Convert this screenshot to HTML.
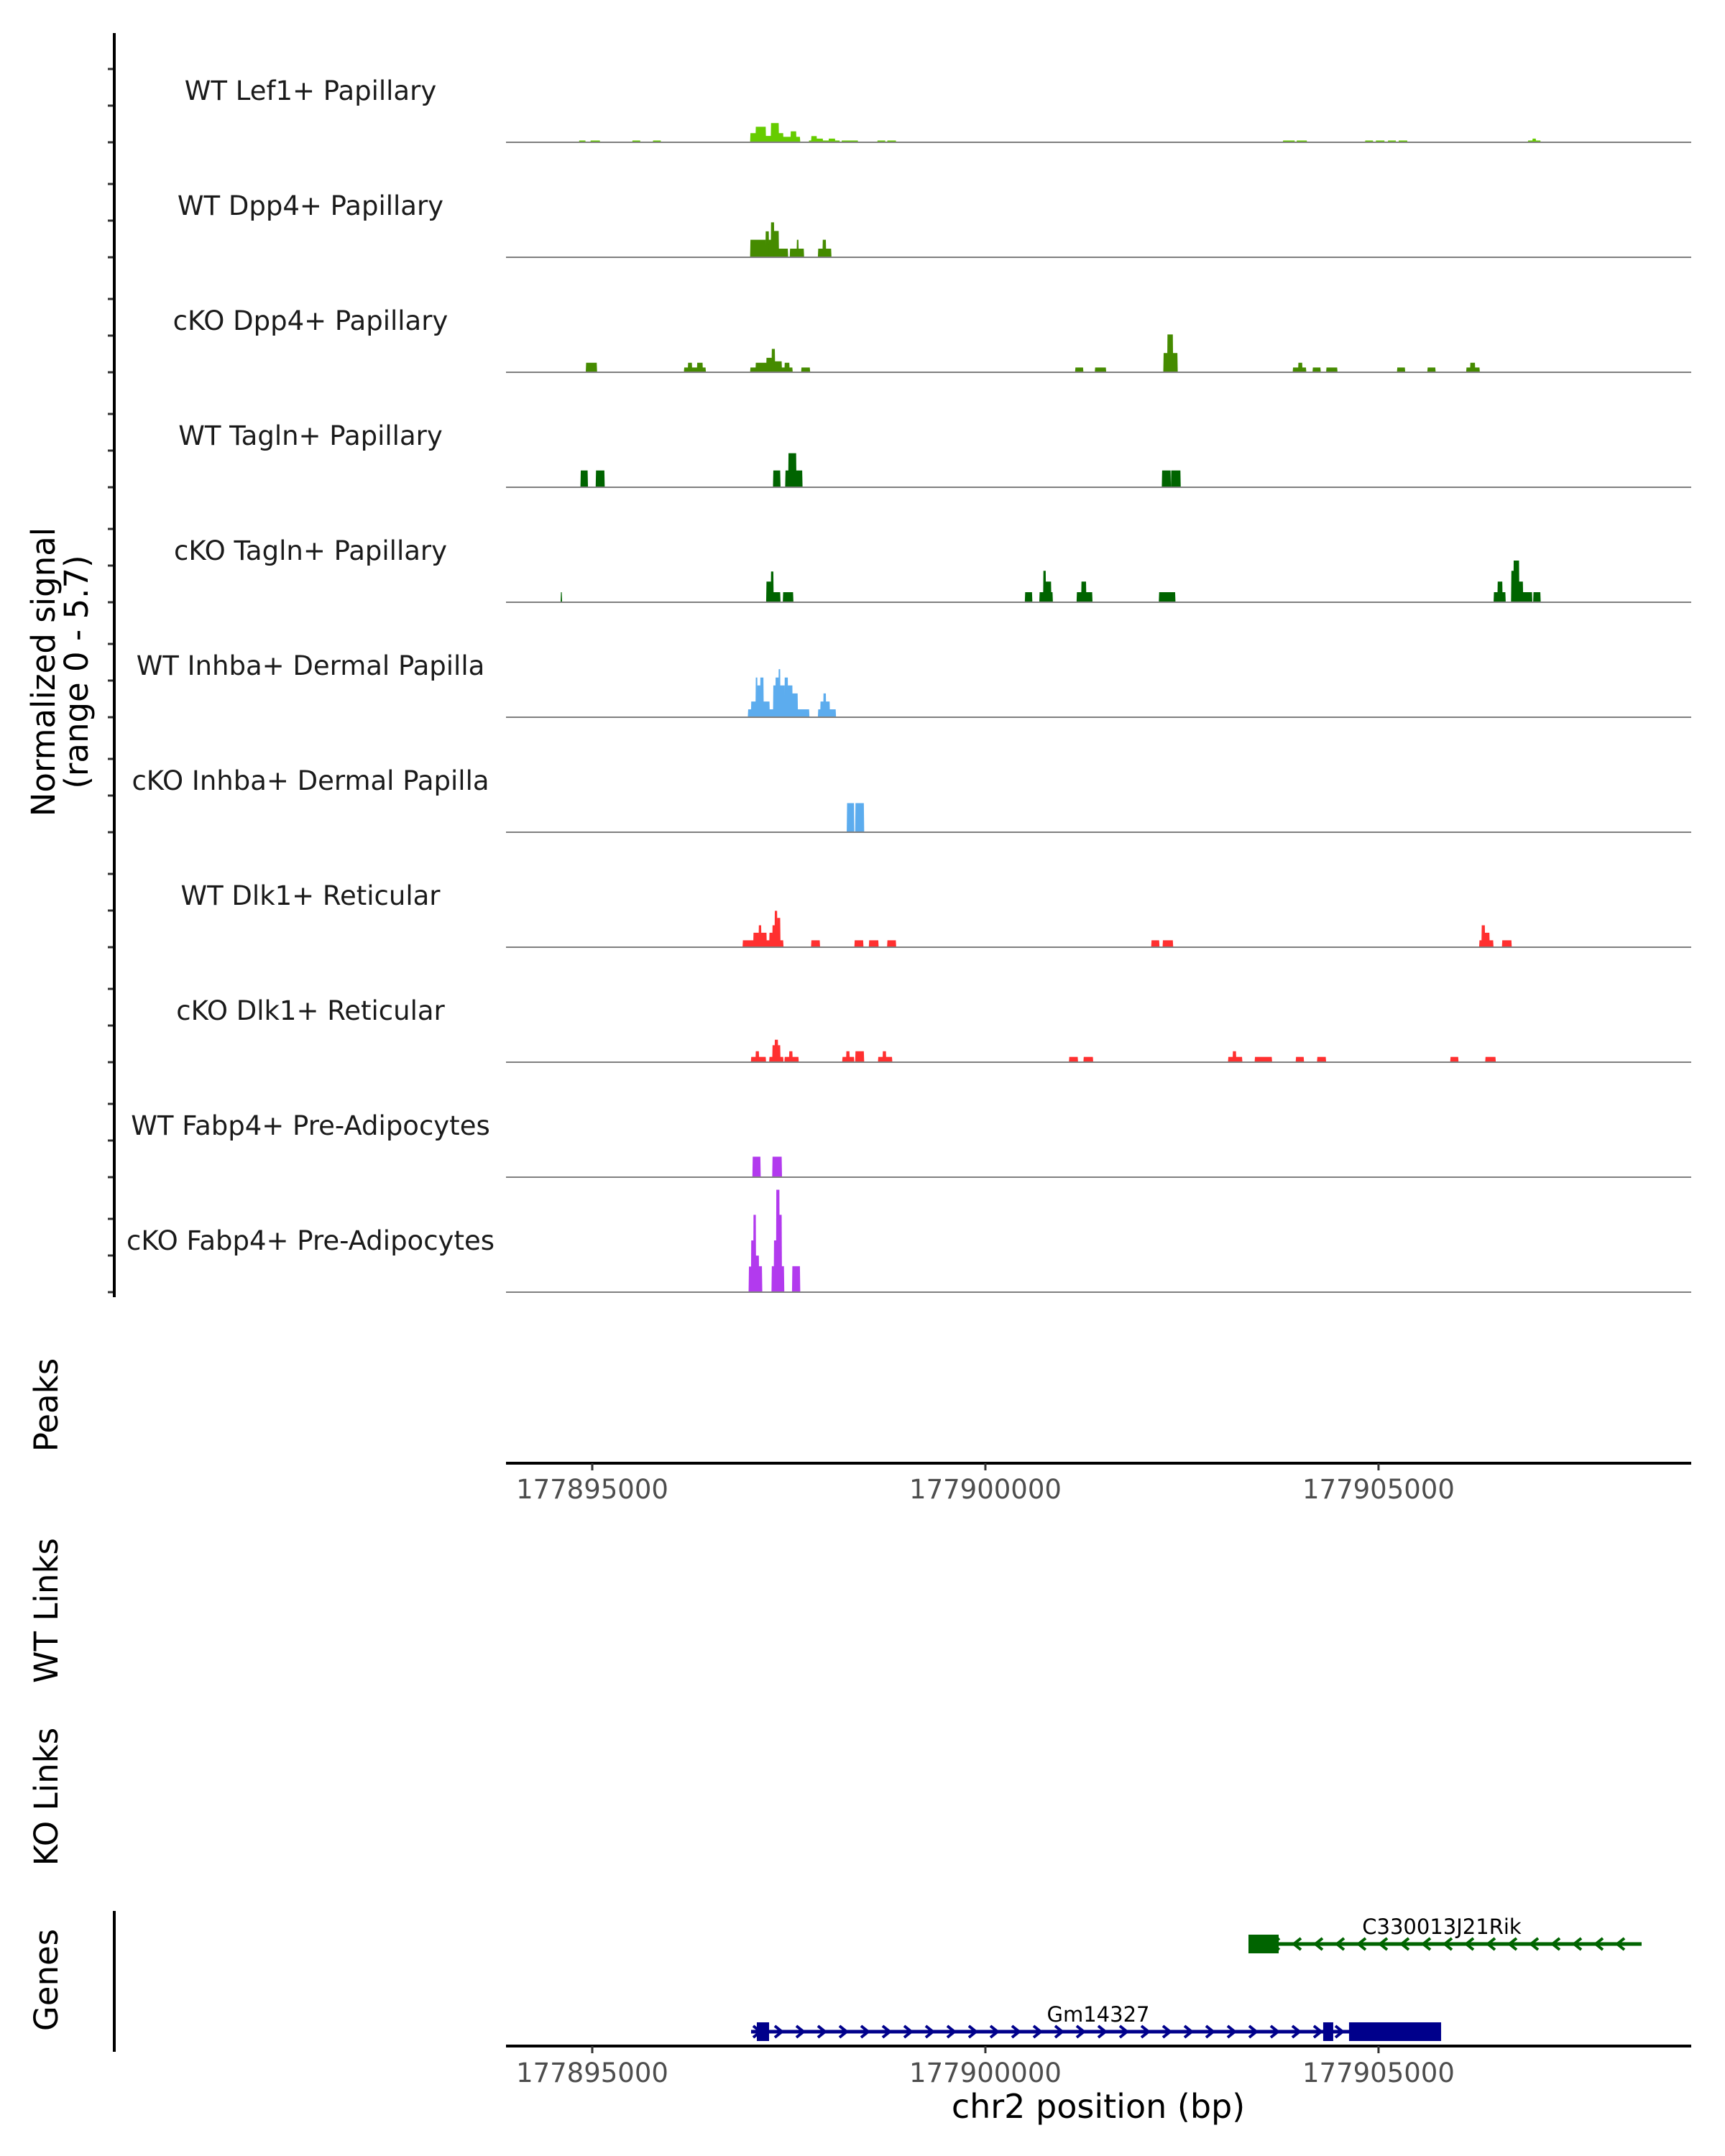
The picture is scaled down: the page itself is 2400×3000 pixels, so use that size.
<!DOCTYPE html>
<html><head><meta charset="utf-8"><style>
html,body{margin:0;padding:0;background:#fff;}
svg{display:block;font-family:"DejaVu Sans","Liberation Sans",sans-serif;}
</style></head><body>
<svg id="fig" width="2400" height="3000" viewBox="0 0 2400 3000" xmlns="http://www.w3.org/2000/svg">
<g id="tracks"></g>
<g id="axes"></g>
<g id="genes"></g>
</svg>
<script>
// offsets in bp relative to 177890000; [start, end, value]
const trackNames = ["WT Lef1+ Papillary","WT Dpp4+ Papillary","cKO Dpp4+ Papillary","WT Tagln+ Papillary","cKO Tagln+ Papillary","WT Inhba+ Dermal Papilla","cKO Inhba+ Dermal Papilla","WT Dlk1+ Reticular","cKO Dlk1+ Reticular","WT Fabp4+ Pre-Adipocytes","cKO Fabp4+ Pre-Adipocytes"];
const trackColors = ["#66cc00","#458b00","#458b00","#006400","#006400","#5cacee","#5cacee","#ff3030","#ff3030","#b23aee","#b23aee"];
const sigLef1WT = [[4835,4912,0.1],[4980,5096,0.1],[5512,5609,0.1],[5774,5870,0.1],[7012,7080,0.5],[7080,7206,0.85],[7206,7274,0.35],[7274,7371,1.05],[7371,7428,0.5],[7428,7525,0.3],[7525,7593,0.6],[7593,7641,0.3],[7758,7787,0.1],[7787,7854,0.34],[7854,7932,0.2],[7932,8009,0.1],[8009,8087,0.2],[8087,8145,0.1],[8174,8377,0.1],[8629,8725,0.1],[8754,8861,0.1],[13787,13932,0.1],[13961,14087,0.1],[14832,14929,0.1],[14968,15074,0.1],[15122,15219,0.1],[15258,15364,0.1],[16903,16960,0.1],[16960,17000,0.2],[17000,17058,0.1]];
const sigDpp4WT = [[7012,7206,0.96],[7206,7245,1.42],[7245,7274,0.96],[7274,7312,1.91],[7312,7371,1.44],[7371,7487,0.47],[7516,7603,0.47],[7603,7622,0.96],[7622,7690,0.47],[7874,7932,0.47],[7932,7971,0.96],[7971,8038,0.47]];
const sigDpp4KO = [[4922,5057,0.52],[6170,6219,0.26],[6219,6267,0.52],[6267,6335,0.26],[6335,6403,0.52],[6403,6441,0.26],[7012,7080,0.26],[7080,7216,0.52],[7216,7284,0.79],[7284,7322,1.28],[7322,7409,0.6],[7409,7448,0.26],[7448,7506,0.52],[7506,7545,0.26],[7661,7767,0.26],[11145,11242,0.26],[11396,11532,0.26],[12267,12316,1.05],[12316,12384,2.07],[12384,12442,1.05],[13913,13981,0.26],[13981,14029,0.52],[14029,14077,0.26],[14165,14261,0.26],[14338,14474,0.26],[15239,15335,0.26],[15625,15722,0.26],[16119,16168,0.26],[16168,16226,0.52],[16226,16284,0.26]];
const sigTaglnWT = [[4854,4941,0.92],[5048,5154,0.92],[7303,7390,0.92],[7458,7496,0.92],[7496,7593,1.86],[7593,7670,0.92],[12248,12355,0.92],[12364,12480,0.92]];
const sigTaglnKO = [[4602,4612,0.55],[7216,7274,1.13],[7274,7303,1.68],[7303,7390,0.55],[7428,7554,0.55],[10506,10593,0.55],[10690,10738,0.55],[10738,10767,1.72],[10767,10835,1.13],[10835,10854,0.55],[11164,11222,0.55],[11222,11280,1.13],[11280,11358,0.55],[12210,12413,0.55],[16468,16516,0.55],[16516,16574,1.13],[16574,16613,0.55],[16690,16719,1.72],[16719,16787,2.28],[16787,16836,1.13],[16836,16952,0.55],[16971,17058,0.55]];
const sigInhbaWT = [[6983,7022,0.43],[7022,7080,0.86],[7080,7099,2.17],[7099,7138,1.74],[7138,7177,2.17],[7177,7254,0.86],[7254,7303,0.43],[7303,7332,1.74],[7332,7371,2.17],[7371,7390,2.63],[7390,7448,1.74],[7448,7487,2.17],[7487,7545,1.74],[7545,7612,1.3],[7612,7758,0.43],[7874,7903,0.43],[7903,7941,0.86],[7941,7971,1.3],[7971,8019,0.86],[8019,8096,0.43]];
const sigInhbaKO = [[8241,8329,1.59],[8348,8454,1.59]];
const sigDlk1WT = [[6916,7051,0.38],[7051,7119,0.79],[7119,7148,1.2],[7148,7216,0.79],[7216,7254,0.38],[7254,7293,0.79],[7293,7322,1.2],[7322,7351,1.99],[7351,7390,1.6],[7390,7428,0.38],[7787,7893,0.38],[8338,8445,0.38],[8522,8638,0.38],[8754,8861,0.38],[12113,12210,0.38],[12258,12384,0.38],[16284,16313,0.38],[16313,16352,1.2],[16352,16410,0.79],[16410,16458,0.38],[16574,16690,0.38]];
const sigDlk1KO = [[7022,7080,0.29],[7080,7119,0.6],[7119,7206,0.29],[7254,7293,0.29],[7293,7322,0.93],[7322,7361,1.23],[7361,7390,0.93],[7390,7428,0.29],[7448,7506,0.29],[7506,7545,0.6],[7545,7622,0.29],[8183,8232,0.29],[8232,8271,0.6],[8271,8329,0.29],[8348,8454,0.6],[8638,8696,0.29],[8696,8735,0.6],[8735,8812,0.29],[11067,11174,0.29],[11251,11367,0.29],[13090,13148,0.29],[13148,13187,0.6],[13187,13264,0.29],[13429,13642,0.29],[13951,14048,0.29],[14222,14329,0.29],[15916,16013,0.29],[16361,16487,0.29]];
const sigFabp4WT = [[7041,7138,1.12],[7293,7409,1.12]];
const sigFabp4KO = [[6993,7022,1.4],[7022,7051,2.83],[7051,7080,4.23],[7080,7119,2.0],[7119,7158,1.42],[7284,7312,1.42],[7312,7341,2.83],[7341,7380,5.6],[7380,7409,4.23],[7409,7438,1.42],[7545,7641,1.42]];
const allSignals = [sigLef1WT,sigDpp4WT,sigDpp4KO,sigTaglnWT,sigTaglnKO,sigInhbaWT,sigInhbaKO,sigDlk1WT,sigDlk1KO,sigFabp4WT,sigFabp4KO];
const xTicks = [177895000,177900000,177905000];
const leftTitles = ["Peaks","WT Links","KO Links","Genes"];
const geneNames = ["C330013J21Rik","Gm14327"];
const geneStrand = [-1,1];
const geneSpan = [[177903346,177908346],[177897020,177905796]];
const geneExons = [[[177903346,177903730]],[[177897093,177897249],[177904296,177904424],[177904625,177905796]]];

const BASE = 177890000;
const NS = "http://www.w3.org/2000/svg";
const X0 = 704, X1 = 2353, DOM0 = 177893903, DOM1 = 177908977;
function xs(bp){ return X0 + (bp - DOM0) / (DOM1 - DOM0) * (X1 - X0); }
const YMAX = 5.7, TRACK_H = 145;
function ys(v, base){ return base - v / YMAX * TRACK_H; }
function trackBase(i){ return 198 + 160 * i; }
function mk(tag, attrs, parent){ const e = document.createElementNS(NS, tag); for (const k in attrs) e.setAttribute(k, attrs[k]); parent.appendChild(e); return e; }

const tracks = document.getElementById('tracks');
const axes = document.getElementById('axes');
const genes = document.getElementById('genes');

allSignals.forEach((sig, i) => {
  const b = trackBase(i);
  const g = mk('g', {}, tracks);
  
  
  const lab = mk('text', {x: 432, y: b - 59, 'text-anchor': 'middle', 'font-size': 37, fill: '#1a1a1a'}, g);
  lab.textContent = trackNames[i];
  
  
  sig.forEach(s => {
    const xa = xs(BASE + s[0]), xb = xs(BASE + s[1]);
    const yt = ys(s[2], b);
    const p = mk('polygon', {points: (xa - 0.5) + ',' + b + ' ' + xa + ',' + yt + ' ' + xb + ',' + yt + ' ' + (xb + 0.5) + ',' + b, fill: trackColors[i]}, g);
    
    
  });
  const bl = mk('line', {x1: X0, x2: X1, y1: b, y2: b, stroke: '#7f7f7f', 'stroke-width': 2}, g);
  
  
  [0, 51, 102].forEach(d => {
    const t = mk('line', {x1: 150, x2: 159, y1: b - d, y2: b - d, stroke: '#333', 'stroke-width': 3}, axes);
    
    
  });
});

const ya = mk('line', {x1: 159, x2: 159, y1: 46, y2: 1805, stroke: '#000', 'stroke-width': 4}, axes);


const yt = mk('text', {transform: 'translate(84,935) rotate(-90)', 'text-anchor': 'middle', 'font-size': 45, fill: '#000'}, axes);


const t1 = mk('tspan', {x: 0, dy: -8}, yt); t1.textContent = 'Normalized signal';
const t2 = mk('tspan', {x: 0, dy: 46}, yt); t2.textContent = '(range 0 - 5.7)';

[1955, 2241, 2500, 2755].forEach((cy, i) => {
  const t = mk('text', {transform: 'translate(80,' + cy + ') rotate(-90)', 'text-anchor': 'middle', 'font-size': 45, fill: '#000'}, axes);
  t.textContent = leftTitles[i];
  
  
});
const ga = mk('line', {x1: 159, x2: 159, y1: 2659, y2: 2855, stroke: '#000', 'stroke-width': 4}, axes);



[[2036, 2085], [2847, 2897]].forEach(([ay, ly]) => {
  const l = mk('line', {x1: X0, x2: X1, y1: ay, y2: ay, stroke: '#000', 'stroke-width': 4}, axes);
  
  
  xTicks.forEach(v => {
    const tk = mk('line', {x1: xs(v), x2: xs(v), y1: ay, y2: ay + 10, stroke: '#333', 'stroke-width': 3}, axes);
    
    
    const tl = mk('text', {x: xs(v), y: ly, 'text-anchor': 'middle', 'font-size': 37, fill: '#4d4d4d'}, axes);
    tl.textContent = String(v);
    
    
  });
});
const xt = mk('text', {x: 1528, y: 2947, 'text-anchor': 'middle', 'font-size': 46, fill: '#000'}, axes);
xt.textContent = 'chr2 position (bp)';



const geneY = [2705, 2827], geneCol = ['#006400', '#00008b'], labelX = [2006, 1528];
geneNames.forEach((n, i) => {
  const g = mk('g', {}, genes);
  
  
  const y = geneY[i], c = geneCol[i];
  const xa = xs(geneSpan[i][0]), xb = xs(geneSpan[i][1]);
  const ln = mk('line', {x1: xa, x2: xb, y1: y, y2: y, stroke: c, 'stroke-width': 5}, g);
  
  
  for (let x = xa + 8; x < xb - 4; x += 30) {
    const d = geneStrand[i];
    const ch = mk('polyline', {points: (x - 5 * d) + ',' + (y - 8) + ' ' + (x + 5 * d) + ',' + y + ' ' + (x - 5 * d) + ',' + (y + 8), fill: 'none', stroke: c, 'stroke-width': 4}, g);
    
    
  }
  geneExons[i].forEach(e => {
    const r = mk('rect', {x: xs(e[0]), y: y - 13, width: xs(e[1]) - xs(e[0]), height: 26, fill: c}, g);
    
    
  });
  const t = mk('text', {x: labelX[i], y: y - 14, 'text-anchor': 'middle', 'font-size': 29, fill: '#000'}, g);
  t.textContent = n;
  
  
});
</script>
</body></html>
